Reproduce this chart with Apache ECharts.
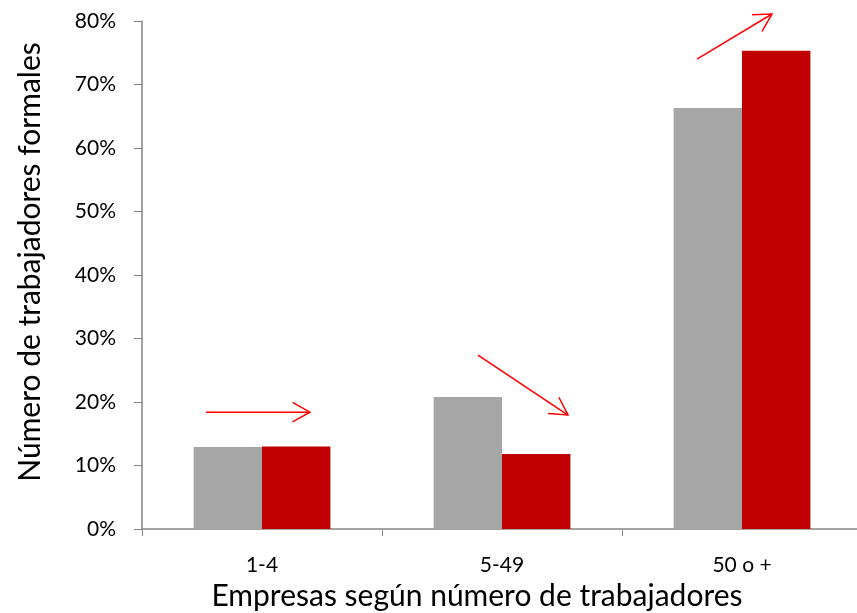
<!DOCTYPE html>
<html>
<head>
<meta charset="utf-8">
<script src="https://cdn.jsdelivr.net/npm/echarts@6/dist/echarts.min.js"></script>
<style>
  html, body { margin: 0; padding: 0; background: #fff; }
  #chart { width: 857px; height: 613px; }
</style>
</head>
<body>
<div id="chart"></div>
<script>
// Share of formal workers by firm size
const categories = ['1-4', '5-49', '50 o +'];
const seriesBefore = [12.9, 20.8, 66.3];
const seriesAfter = [13.0, 11.8, 75.3];
const yTicks = [0, 10, 20, 30, 40, 50, 60, 70, 80];

// Trend arrows: [category, offset in band widths, value %] for start and end
const arrows = [
  { from: [0, -0.233, 18.4], to: [0, 0.20, 18.4] },
  { from: [1, -0.10, 27.4], to: [1, 0.275, 17.95] },
  { from: [2, -0.1875, 74.0], to: [2, 0.125, 81.1] }
];

const font = 'Lato, "Liberation Sans", sans-serif';
const chart = echarts.init(document.getElementById('chart'), null, { renderer: 'canvas' });

chart.setOption({
  animation: false,
  backgroundColor: '#ffffff',
  grid: { left: 142, top: 21, width: 720, height: 508, containLabel: false, outerBoundsMode: 'none' },
  xAxis: {
    type: 'category',
    data: categories,
    name: 'Empresas según número de trabajadores',
    nameLocation: 'middle',
    nameGap: 51,
    nameTextStyle: { fontFamily: font, fontSize: 30, color: '#000', padding: [0, 50, 0, 0] },
    axisLine: { lineStyle: { color: '#868686', width: 1.5 } },
    axisTick: { show: true, length: 7, interval: 0, lineStyle: { color: '#868686' } },
    axisLabel: { fontFamily: font, fontSize: 21, color: '#000', margin: 26 },
    splitLine: { show: false }
  },
  yAxis: {
    type: 'value',
    min: yTicks[0],
    max: yTicks[yTicks.length - 1],
    interval: 10,
    name: 'Número de trabajadores formales',
    nameLocation: 'middle',
    nameGap: 97,
    nameTextStyle: { fontFamily: font, fontSize: 30, color: '#000', padding: [0, 0, 0, 26] },
    axisLine: { show: true, lineStyle: { color: '#868686', width: 1.5 } },
    axisTick: { show: true, inside: false, length: 8, lineStyle: { color: '#868686' } },
    axisLabel: { fontFamily: font, fontSize: 21, color: '#000', margin: 26, formatter: '{value}%' },
    splitLine: { show: false }
  },
  series: [
    {
      type: 'bar',
      data: seriesBefore,
      barGap: '0%',
      barCategoryGap: '43%',
      itemStyle: { color: '#A6A6A6' }
    },
    {
      type: 'bar',
      data: seriesAfter,
      barGap: '0%',
      barCategoryGap: '43%',
      itemStyle: { color: '#C00000' }
    }
  ]
});

// Arrows placed through the axes' scales
function toPixel(p) {
  const c0 = chart.convertToPixel({ xAxisIndex: 0 }, 0);
  const c1 = chart.convertToPixel({ xAxisIndex: 0 }, 1);
  const band = c1 - c0;
  const x = chart.convertToPixel({ xAxisIndex: 0 }, p[0]) + p[1] * band;
  const y = chart.convertToPixel({ yAxisIndex: 0 }, p[2]);
  return [x, y];
}

const graphics = [];
const headLen = 20;
const headAng = Math.PI / 6.2;
arrows.forEach(a => {
  const s = toPixel(a.from);
  const e = toPixel(a.to);
  const ang = Math.atan2(e[1] - s[1], e[0] - s[0]);
  const h1 = [e[0] - headLen * Math.cos(ang - headAng), e[1] - headLen * Math.sin(ang - headAng)];
  const h2 = [e[0] - headLen * Math.cos(ang + headAng), e[1] - headLen * Math.sin(ang + headAng)];
  const style = { stroke: '#FF0000', lineWidth: 1.5, fill: null };
  graphics.push({ type: 'line', z: 100, shape: { x1: s[0], y1: s[1], x2: e[0], y2: e[1] }, style });
  graphics.push({ type: 'polyline', z: 100, shape: { points: [h1, e, h2] }, style });
});
chart.setOption({ graphic: graphics });
</script>
</body>
</html>
